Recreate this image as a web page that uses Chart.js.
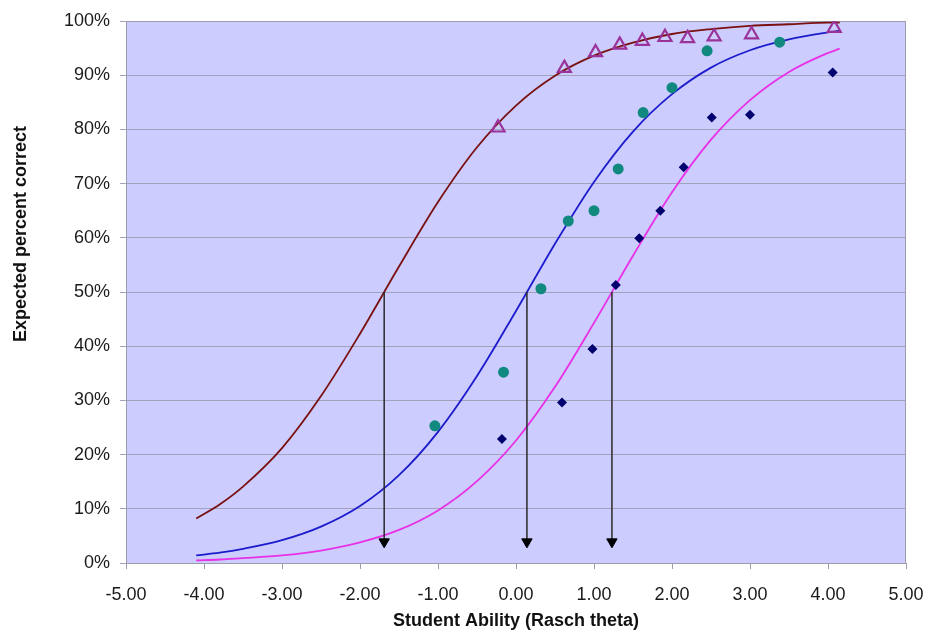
<!DOCTYPE html>
<html>
<head>
<meta charset="utf-8">
<script src="https://cdn.jsdelivr.net/npm/chart.js@4.4.1/dist/chart.umd.min.js"></script>
<style>
  html, body { margin: 0; padding: 0; background: #ffffff; }
  #wrap { width: 935px; height: 632px; }
</style>
</head>
<body>
<div id="wrap"><canvas id="chart" width="935" height="632"></canvas></div>
<script>
const curveTheta = [-4.1, -3.8, -3.5, -3.0, -2.5, -2.0, -1.5, -1.0, -0.5, 0, 0.5, 1.0, 1.5, 2.0, 2.5, 3.0, 3.5, 4.0, 4.15];
const easyCurve = [8.2, 10.8, 14.1, 21.2, 30.8, 42.3, 54.7, 66.6, 76.7, 84.4, 89.9, 93.6, 96.0, 97.6, 98.5, 99.1, 99.4, 99.7, 99.7];
const mediumCurve = [1.4, 1.9, 2.6, 4.2, 6.7, 10.5, 16.2, 24.2, 34.5, 46.5, 58.9, 70.3, 79.6, 86.5, 91.4, 94.6, 96.6, 97.9, 98.2];
const hardCurve = [0.5, 0.65, 0.9, 1.4, 2.3, 3.8, 6.1, 9.7, 15.1, 22.6, 32.5, 44.3, 56.7, 68.4, 78.1, 85.4, 90.6, 94.1, 94.9];

// observed points
const easyTheta = [-0.23, 0.62, 1.02, 1.33, 1.62, 1.91, 2.20, 2.54, 3.02, 4.08];
const easyObserved = [80.3, 91.3, 94.2, 95.6, 96.3, 97.0, 96.8, 97.1, 97.5, 98.7];
const mediumTheta = [-1.04, -0.16, 0.32, 0.67, 1.00, 1.31, 1.63, 2.00, 2.45, 3.38];
const mediumObserved = [25.3, 35.2, 50.6, 63.1, 65.0, 72.7, 83.1, 87.7, 94.5, 96.1];
const hardTheta = [-0.18, 0.59, 0.98, 1.28, 1.58, 1.85, 2.15, 2.51, 3.00, 4.06];
const hardObserved = [22.9, 29.6, 39.5, 51.3, 59.9, 65.0, 73.0, 82.2, 82.7, 90.5];

// 50% difficulty markers
const arrowTheta = [-1.69, 0.14, 1.23];
const arrowFrom = 50;
const arrowTo = 3.9;

const xTicks = [-5, -4, -3, -2, -1, 0, 1, 2, 3, 4, 5];
const yTicks = [0, 10, 20, 30, 40, 50, 60, 70, 80, 90, 100];

const toPoints = (xs, ys) => xs.map((x, i) => ({ x: x, y: ys[i] }));

const plotBackground = {
    id: 'plotBackground',
    beforeDraw(chart) {
        const { ctx, chartArea: a } = chart;
        ctx.save();
        ctx.fillStyle = '#ccccff';
        ctx.fillRect(a.left, a.top, a.width, a.height);
        ctx.restore();
    },
    beforeDatasetsDraw(chart) {
        const { ctx, chartArea: a } = chart;
        ctx.save();
        ctx.strokeStyle = '#9c9cac';
        ctx.lineWidth = 1;
        ctx.strokeRect(a.left + 0.5, a.top + 0.5, a.width - 1, a.height);
        ctx.restore();
    }
};

// y title sits higher than the plot centre in the original
const sideTitle = {
    id: 'sideTitle',
    afterDraw(chart) {
        const ctx = chart.ctx;
        ctx.save();
        ctx.translate(21, 234);
        ctx.rotate(-Math.PI / 2);
        ctx.font = 'bold 18px "Liberation Sans", Arial, sans-serif';
        ctx.textAlign = 'center';
        ctx.textBaseline = 'middle';
        ctx.fillStyle = '#111111';
        ctx.fillText('Expected percent correct', 0, 0);
        ctx.restore();
    }
};

const arrowSets = arrowTheta.map(t => ({
    data: [{ x: t, y: arrowFrom }, { x: t, y: arrowTo }],
    showLine: true,
    borderColor: '#2a2a2a',
    borderWidth: 1.5,
    pointRadius: [0, 6],
    pointStyle: 'triangle',
    rotation: 180,
    pointBackgroundColor: '#000000',
    pointBorderColor: '#000000',
    pointBorderWidth: 1
}));

const curveSet = (ys, color) => ({
    data: toPoints(curveTheta, ys),
    showLine: true,
    borderColor: color,
    borderWidth: 1.8,
    pointRadius: 0,
    cubicInterpolationMode: 'monotone'
});

new Chart(document.getElementById('chart'), {
    type: 'scatter',
    data: {
        datasets: [
            {
                data: toPoints(easyTheta, easyObserved),
                pointStyle: 'triangle',
                pointRadius: 7.5,
                backgroundColor: 'rgba(0,0,0,0)',
                borderColor: '#993399',
                borderWidth: 2.2
            },
            {
                data: toPoints(mediumTheta, mediumObserved),
                pointStyle: 'circle',
                pointRadius: 5.5,
                backgroundColor: '#12897f',
                borderColor: '#12897f',
                borderWidth: 0
            },
            {
                data: toPoints(hardTheta, hardObserved),
                pointStyle: 'rectRot',
                pointRadius: 5,
                backgroundColor: '#00006e',
                borderColor: '#00006e',
                borderWidth: 0
            },
            ...arrowSets,
            curveSet(easyCurve, '#7a1010'),
            curveSet(mediumCurve, '#1c1ccc'),
            curveSet(hardCurve, '#e830e8')
        ]
    },
    options: {
        responsive: false,
        animation: false,
        layout: { padding: { top: 21, right: 29, bottom: 0, left: 0 } },
        plugins: {
            legend: { display: false },
            tooltip: { enabled: false }
        },
        scales: {
            x: {
                type: 'linear',
                min: -5,
                max: 5,
                afterBuildTicks: scale => { scale.ticks = xTicks.map(v => ({ value: v })); },
                afterFit: scale => {
                    scale.height = 69;
                    scale.paddingLeft = 0;
                    scale.paddingRight = 0;
                },
                ticks: {
                    color: '#1a1a1a',
                    font: { family: '"Liberation Sans", Arial, sans-serif', size: 18 },
                    padding: 15,
                    maxRotation: 0,
                    callback: v => v.toFixed(2)
                },
                grid: { drawOnChartArea: false, drawTicks: true, tickLength: 6, color: '#9c9cac' },
                border: { display: false },
                title: {
                    display: true,
                    text: 'Student Ability (Rasch theta)',
                    color: '#111111',
                    font: { family: '"Liberation Sans", Arial, sans-serif', size: 18, weight: 'bold' },
                    padding: { top: 0, bottom: 0 }
                }
            },
            y: {
                type: 'linear',
                min: 0,
                max: 100,
                afterBuildTicks: scale => { scale.ticks = yTicks.map(v => ({ value: v })); },
                afterFit: scale => {
                    scale.width = 126;
                    scale.paddingTop = 0;
                    scale.paddingBottom = 0;
                },
                ticks: {
                    color: '#1a1a1a',
                    font: { family: '"Liberation Sans", Arial, sans-serif', size: 18 },
                    padding: 10,
                    callback: v => v + '%'
                },
                grid: { color: '#a2a2bc', lineWidth: 1, tickLength: 6 },
                border: { display: false }
            }
        }
    },
    plugins: [plotBackground, sideTitle]
});
</script>
</body>
</html>
